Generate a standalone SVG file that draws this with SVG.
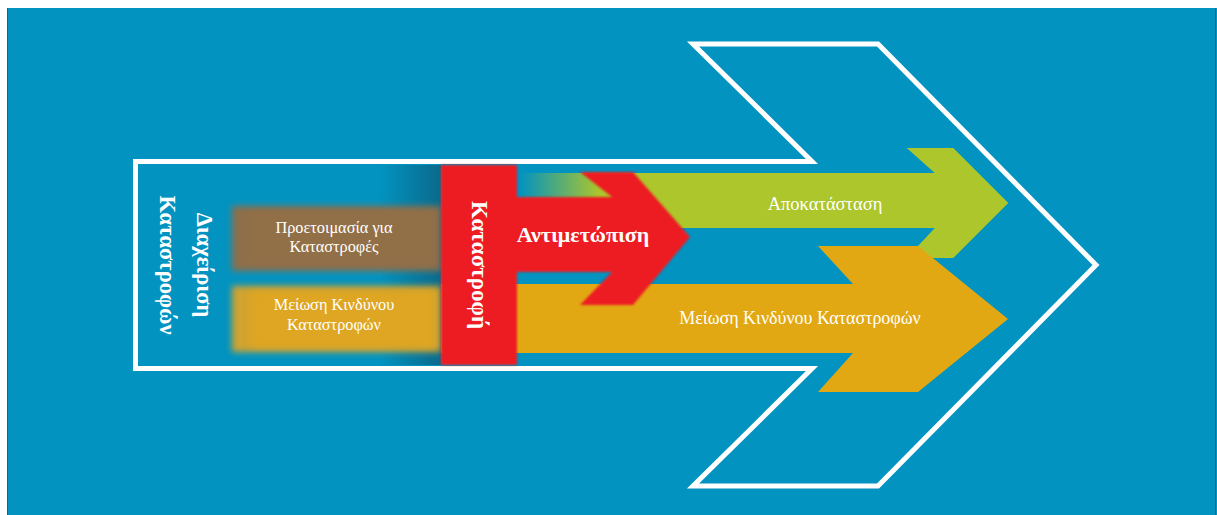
<svg xmlns="http://www.w3.org/2000/svg" width="1217" height="515" viewBox="0 0 1217 515">
  <style>
    .lbl { font-family: "Liberation Serif", "DejaVu Serif", serif; fill: #ffffff; }
    .bold { font-weight: bold; }
    .outline { fill: none; stroke: #ffffff; stroke-width: 5; stroke-linejoin: miter; }
  </style>
  <defs>
    <filter id="soft" x="-10%" y="-20%" width="120%" height="140%">
      <feGaussianBlur stdDeviation="3"/>
    </filter>
    <filter id="softTip" x="-5%" y="-5%" width="110%" height="110%">
      <feGaussianBlur stdDeviation="1.2"/>
    </filter>
    <linearGradient id="shade" x1="0" y1="0" x2="1" y2="0">
      <stop offset="0" stop-color="#0a6a8c" stop-opacity="0"/>
      <stop offset="1" stop-color="#0a6a8c" stop-opacity="1"/>
    </linearGradient>
    <linearGradient id="greenFade" x1="520" y1="0" x2="600" y2="0" gradientUnits="userSpaceOnUse">
      <stop offset="0" stop-color="#adc62b" stop-opacity="0"/>
      <stop offset="1" stop-color="#adc62b" stop-opacity="1"/>
    </linearGradient>
  </defs>

  <!-- backdrop -->
  <rect x="7" y="8" width="1210" height="507" fill="#0293c0"/>
  <line x1="7.5" y1="8" x2="7.5" y2="515" stroke="#0a6a8c" stroke-width="1"/>
  <line x1="1215.5" y1="8" x2="1215.5" y2="515" stroke="#0a6a8c" stroke-width="1"/>

  <!-- large outlined arrow frame -->
  <g id="frame">
    <path class="outline" d="M135.5,161.5 L812,161.5 L693,44 L878,44 L1096,265 L878,486 L693,486 L812,368.5 L135.5,368.5 Z"/>
    <text class="lbl bold" font-size="22.5" transform="translate(197,265) rotate(90)" text-anchor="middle">Διαχείριση</text>
    <text class="lbl bold" font-size="22.5" transform="translate(160,265) rotate(90)" text-anchor="middle">Καταστροφών</text>
  </g>

  <!-- recovery arrow -->
  <g id="recovery">
    <path fill="url(#greenFade)" d="M520,173 L935,173 L907,148 L953,148 L1008,203 L953,258 L907,258 L935,228 L520,228 Z"/>
    <path fill="#adc62b" d="M600,173 L935,173 L907,148 L953,148 L1008,203 L953,258 L907,258 L935,228 L600,228 Z"/>
    <text class="lbl" font-size="18.5" x="825" y="210" text-anchor="middle">Αποκατάσταση</text>
  </g>

  <!-- risk reduction arrow -->
  <g id="reduction">
    <path fill="#e2a814" d="M440,284 L853,284 L818,246 L918,246 L1008,319 L918,392 L818,392 L853,353 L440,353 Z"/>
    <text class="lbl" font-size="18" x="800" y="324" text-anchor="middle">Μείωση Κινδύνου Καταστροφών</text>
  </g>

  <!-- shading in front of the disaster bar -->
  <rect x="380" y="165" width="61" height="200" fill="url(#shade)"/>

  <!-- preparedness box -->
  <g id="preparedness">
    <rect x="232" y="206" width="209" height="65" fill="#8f6e48" filter="url(#soft)"/>
    <rect x="252" y="212" width="180" height="52" fill="#927047" filter="url(#soft)"/>
    <text class="lbl" font-size="16.3" x="334" y="233" text-anchor="middle">Προετοιμασία για</text>
    <text class="lbl" font-size="16.3" x="334" y="252" text-anchor="middle">Καταστροφές</text>
  </g>

  <!-- risk reduction box -->
  <g id="reduction-box">
    <rect x="232" y="286" width="209" height="66" fill="#d2a32e" filter="url(#soft)"/>
    <rect x="250" y="291" width="184" height="56" fill="#dea623" filter="url(#soft)"/>
    <text class="lbl" font-size="16.3" x="334" y="310" text-anchor="middle">Μείωση Κινδύνου</text>
    <text class="lbl" font-size="16.3" x="334" y="330" text-anchor="middle">Καταστροφών</text>
  </g>

  <!-- disaster bar with response arrow -->
  <g id="disaster">
    <path fill="#ed1c24" filter="url(#softTip)" d="M441,165 L517,165 L517,197 L612,197 L580,172 L633,172 L690,237 L633,305 L580,305 L612,272 L517,272 L517,365 L441,365 Z"/>
    <text class="lbl bold" font-size="23" transform="translate(472,265) rotate(90)" text-anchor="middle">Καταστροφή</text>
    <text class="lbl bold" font-size="22" x="583" y="242" text-anchor="middle">Αντιμετώπιση</text>
  </g>

  <!-- no connectors: the stages are drawn as arrow shapes -->
  <g id="connectors"/>
</svg>
